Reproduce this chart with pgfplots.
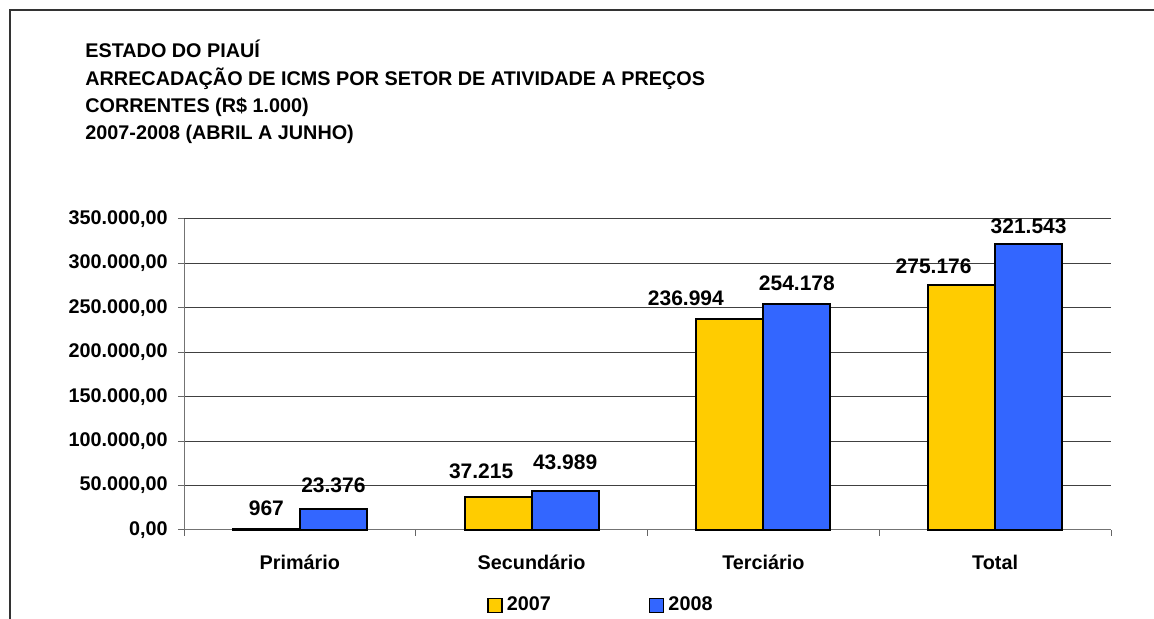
\documentclass[border=0pt]{standalone}
\usepackage{fontspec}
\setmainfont{Liberation Sans}
\usepackage{pgfplots}
\pgfplotsset{compat=1.18}
\usepackage{pgfplotstable}

\definecolor{amarelo}{HTML}{FFCC00}
\definecolor{azul}{HTML}{3366FF}

% x, valor, rotulo, deslocamentos do rotulo (pt)
\pgfplotstableread{
x y lab dx dy
1 967 967 0 7
2 37215 37.215 -8.5 9
3 236994 236.994 -22 7
4 275176 275.176 -14 6
}\anoA
\pgfplotstableread{
x y lab dx dy
1 23376 23.376 0 8.5
2 43989 43.989 0 10.5
3 254178 254.178 0 7
4 321543 321.543 0 5.5
}\anoB

\pgfplotsset{rotulos/.style={
  nodes near coords,
  point meta=explicit symbolic,
  visualization depends on={\thisrow{dx}\as\dx},
  visualization depends on={\thisrow{dy}\as\dy},
  every node near coord/.append style={xshift=\dx pt,yshift=\dy pt},
}}

\begin{document}
\begin{tikzpicture}
\useasboundingbox (0,0) rectangle (577pt,309.5pt);
\draw[black!80,line width=0.75pt] (5pt,-5pt) -- (5pt,304.5pt) -- (590pt,304.5pt);
\begin{scope}[font=\bfseries\fontsize{9.9}{12}\selectfont]
\node[anchor=base west,inner sep=0pt] at (42.5pt,280.5pt) {ESTADO DO PIAUÍ};
\node[anchor=base west,inner sep=0pt] at (42.5pt,266.5pt) {ARRECADAÇÃO DE ICMS POR SETOR DE ATIVIDADE A PREÇOS};
\node[anchor=base west,inner sep=0pt] at (42.5pt,253pt) {CORRENTES (R\$ 1.000)};
\node[anchor=base west,inner sep=0pt] at (42.5pt,239.5pt) {2007-2008 (ABRIL A JUNHO)};
\end{scope}
\begin{axis}[
  at={(92pt,44.5pt)},anchor=south west,
  scale only axis,width=463.5pt,height=155.5pt,
  ybar=0pt,bar width=33.5pt,
  legend image code/.code={\draw[#1,line width=0.75pt] (0pt,-3.5pt) rectangle (7pt,3.5pt);},
  xmin=0.5,xmax=4.5,ymin=0,ymax=350000,
  ytick={0,50000,...,350000},
  xtick={1,2,3,4},xticklabels={Primário,Secundário,Terciário,Total},
  minor xtick={0.5,1.5,2.5,3.5,4.5},
  major x tick style={draw=none},
  tick align=outside,tick pos=left,
  major tick length=3pt,minor tick length=3pt,
  tick style={black!60,line width=0.5pt},
  axis x line*=bottom,axis y line*=left,
  axis line style={black!55,line width=0.5pt},
  ymajorgrids,grid style={black!75,line width=0.5pt},
  scaled y ticks=false,
  /pgf/number format/fixed,
  /pgf/number format/fixed zerofill,
  /pgf/number format/precision=2,
  /pgf/number format/use comma,
  /pgf/number format/1000 sep={.},
  /pgf/number format/assume math mode=true,
  ticklabel style={font=\bfseries\fontsize{9.9}{12}\selectfont,inner sep=0pt},
  yticklabel style={anchor=east,xshift=-5pt},
  xticklabel style={anchor=base,yshift=-17pt},
  clip=false,
  every node near coord/.append style={font=\bfseries\fontsize{10.5}{12}\selectfont,inner sep=0pt,anchor=base,black},
  legend columns=2,
  legend style={draw=none,fill=none,at={(0.3269,-0.2428)},anchor=west,inner sep=0pt,
    font=\bfseries\fontsize{9.9}{12}\selectfont,
    /tikz/every even column/.style={column sep=47pt}},
]
\addplot[fill=amarelo,draw=black,line width=1pt,rotulos] table[x=x,y=y,meta=lab]{\anoA};
\addlegendentry{2007}
\addplot[fill=azul,draw=black,line width=1pt,rotulos] table[x=x,y=y,meta=lab]{\anoB};
\addlegendentry{2008}
\end{axis}
\end{tikzpicture}
\end{document}
